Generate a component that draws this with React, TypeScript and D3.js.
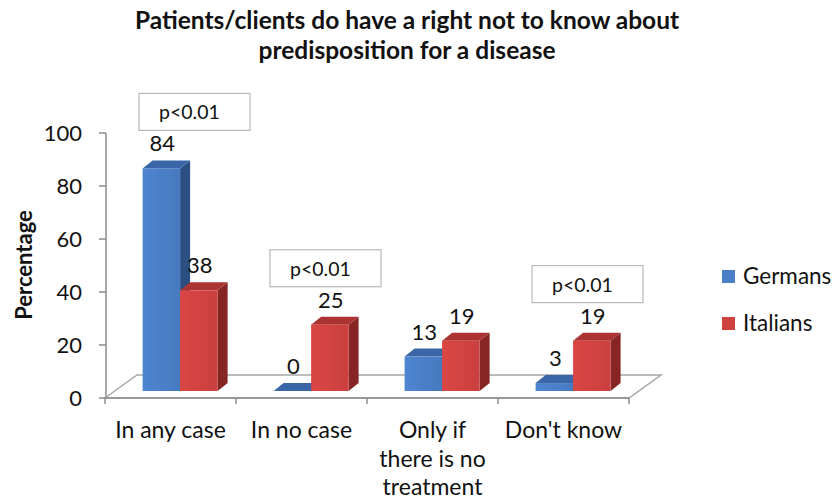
import React from "react";
import * as d3 from "d3";

const categories: string[][] = [
  ["In any case"],
  ["In no case"],
  ["Only if", "there is no", "treatment"],
  ["Don't know"],
];
const germans = [84, 0, 13, 3];
const italians = [38, 25, 19, 19];
const seriesNames = ["Germans", "Italians"];
const yTicks = [0, 20, 40, 60, 80, 100];
const pLabels = ["p<0.01", "p<0.01", "", "p<0.01"];
const titleLines = [
  "Patients/clients do have a right not to know about",
  "predisposition for a disease",
];

const W = 835;
const H = 503;
const FONT = "Lato, 'Open Sans', sans-serif";

const colors = [
  { front: "#4a7ec6", top: "#3a66a8", side: "#2b4f83" },
  { front: "#d04240", top: "#ab3331", side: "#862524" },
];

export default function App() {
  const x0 = 105;
  const x1 = 629;
  const yBase = 398;
  const yTop = 133;
  const floorDx = 32;
  const floorDy = -23;
  const barShiftX = 9.6;
  const barShiftY = -7;
  const sideDx = 10;
  const sideDy = -8;

  const xBand = d3
    .scaleBand<number>()
    .domain(categories.map((_, i) => i))
    .range([x0, x1])
    .paddingInner(0)
    .paddingOuter(0);
  const y = d3.scaleLinear().domain([0, 100]).range([yBase, yTop]);
  const barW = 37.5;

  const series = [germans, italians];

  const bars: React.ReactNode[] = [];
  const labels: React.ReactNode[] = [];
  categories.forEach((_, ci) => {
    const cx = (xBand(ci) as number) + xBand.bandwidth() / 2 + barShiftX;
    series.forEach((vals, si) => {
      const v = vals[ci];
      const left = cx - barW + si * barW;
      const right = left + barW;
      const bottom = y(0) + barShiftY;
      const top = y(v) + barShiftY;
      const c = colors[si];
      bars.push(
        <g key={`b${ci}-${si}`}>
          <polygon
            points={`${right},${bottom} ${right + sideDx},${bottom + sideDy} ${right + sideDx},${top + sideDy} ${right},${top}`}
            fill={c.side}
          />
          <polygon
            points={`${left},${top} ${left + sideDx},${top + sideDy} ${right + sideDx},${top + sideDy} ${right},${top}`}
            fill={c.top}
          />
          <rect x={left} y={top} width={barW} height={Math.max(0, bottom - top)} fill={`url(#grad${si})`} />
        </g>
      );
      labels.push(
        <text
          key={`l${ci}-${si}`}
          x={(left + right) / 2 + 1}
          y={top - 17}
          textAnchor="middle"
          fontSize={22}
          fill="#111"
        >
          {v}
        </text>
      );
    });
  });

  const boxes: React.ReactNode[] = [];
  pLabels.forEach((p, ci) => {
    if (!p) return;
    const maxV = Math.max(germans[ci], italians[ci]);
    const baseline = y(maxV) + barShiftY - 17;
    const bottom = baseline - 21;
    const h = 37;
    const bx = (xBand(ci) as number) + 34;
    boxes.push(
      <g key={`p${ci}`}>
        <rect x={bx} y={bottom - h} width={111} height={h} fill="#fff" stroke="#b8b8b8" strokeWidth={1.2} />
        <text x={bx + 20} y={bottom - 11} fontSize={19.5} fill="#111">
          {p}
        </text>
      </g>
    );
  });

  return (
    <svg width={W} height={H} style={{ position: "absolute", left: 0, top: 0, background: "#fff" }} fontFamily={FONT}>
      <defs>
        {colors.map((c, i) => (
          <linearGradient key={i} id={`grad${i}`} x1="0" x2="1" y1="0" y2="0">
            <stop offset="0" stopColor={d3.color(c.front)!.brighter(0.15).toString()} />
            <stop offset="1" stopColor={d3.color(c.front)!.darker(0.1).toString()} />
          </linearGradient>
        ))}
      </defs>
      <rect width={W} height={H} fill="#fff" />
      {titleLines.map((t, i) => (
        <text key={t} x={407} y={29 + i * 30} textAnchor="middle" fontWeight="bold" fontSize={24.5} fill="#111">
          {t}
        </text>
      ))}

      {/* floor */}
      <polygon
        points={`${x0},${yBase} ${x0 + floorDx},${yBase + floorDy} ${x1 + floorDx},${yBase + floorDy} ${x1},${yBase}`}
        fill="none"
        stroke="#a6a6a6"
        strokeWidth={1.5}
      />
      {/* y axis */}
      <line x1={x0 + 1} x2={x0 + 1} y1={yTop} y2={yBase} stroke="#8c8c8c" strokeWidth={1.5} />
      {yTicks.map((t) => (
        <g key={t}>
          <line x1={x0 - 6} x2={x0 + 1} y1={y(t)} y2={y(t)} stroke="#8c8c8c" strokeWidth={1.5} />
          <text x={82} y={y(t) + 8} textAnchor="end" fontSize={22} fill="#111">
            {t}
          </text>
        </g>
      ))}
      {/* x axis */}
      <line x1={x0} x2={x1} y1={yBase} y2={yBase} stroke="#8c8c8c" strokeWidth={1.5} />
      {categories.map((_, i) => (
        <line key={i} x1={xBand(i)} x2={xBand(i)} y1={yBase} y2={yBase + 6} stroke="#8c8c8c" strokeWidth={1.5} />
      ))}
      <line x1={x1} x2={x1} y1={yBase} y2={yBase + 6} stroke="#8c8c8c" strokeWidth={1.5} />

      {bars}
      {labels}
      {boxes}

      {categories.map((lines, i) => (
        <text key={i} textAnchor="middle" fontSize={23} fill="#111">
          {lines.map((ln, j) => (
            <tspan key={j} x={(xBand(i) as number) + xBand.bandwidth() / 2} y={438 + j * 28.5}>
              {ln}
            </tspan>
          ))}
        </text>
      ))}

      <text
        transform="translate(32,265) rotate(-90)"
        textAnchor="middle"
        fontWeight="bold"
        fontSize={22}
        fill="#111"
      >
        Percentage
      </text>

      {seriesNames.map((n, i) => (
        <g key={n}>
          <rect x={722} y={270 + i * 47} width={13} height={13} fill={colors[i].front} />
          <text x={743} y={284 + i * 47} fontSize={22.5} fill="#111">
            {n}
          </text>
        </g>
      ))}
    </svg>
  );
}
